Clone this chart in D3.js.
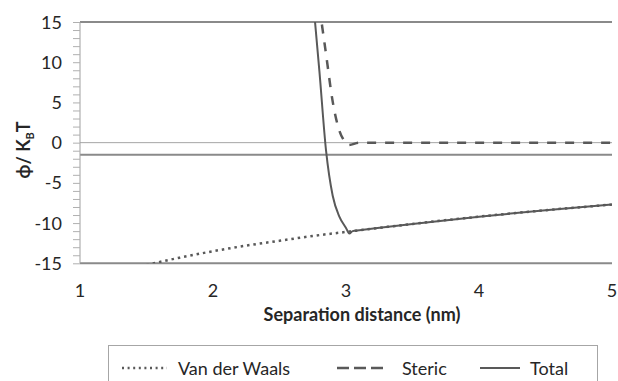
<!DOCTYPE html>
<html>
<head>
<meta charset="utf-8">
<script src="https://cdn.jsdelivr.net/npm/d3@7"></script>
<style>
  body { margin: 0; background: #fff; }
  text { font-family: Lato, "DejaVu Sans", sans-serif; fill: #262626; }
</style>
</head>
<body>
<div class="chart"></div>
<script>
// values
const vdwX   = [1.5, 1.75, 2.0, 2.25, 2.5, 2.75, 3.0, 3.5, 4.0, 4.5, 5.0];
const vdwY   = [-15.2, -14.3, -13.5, -12.8, -12.2, -11.6, -11.1, -10.1, -9.2, -8.4, -7.7];
const stericX = [2.8, 2.85, 2.9, 2.95, 2.98, 3.02, 3.1, 3.5, 4.0, 4.5, 5.0];
const stericY = [16.9, 11.0, 5.1, 1.5, 0.4, -0.3, 0, 0, 0, 0, 0];
const totalX = [2.75, 2.8, 2.85, 2.9, 2.95, 3.0, 3.025, 3.05, 3.1, 3.5, 4.0, 4.5, 5.0];
const totalY = [18.2, 8.9, -1.0, -6.6, -9.2, -10.6, -11.3, -11.0, -10.9, -10.1, -9.2, -8.4, -7.7];
const xTicks = [1, 2, 3, 4, 5];
const yTicks = [-15, -10, -5, 0, 5, 10, 15];
const refLines = [15, -1.5, -15];
const legendNames = ["Van der Waals", "Steric", "Total"];

const W = 618, H = 381;
const margin = { top: 22, right: 6, bottom: 117.7, left: 80 };
const width = W - margin.left - margin.right;
const height = H - margin.top - margin.bottom;

const svg = d3.select(".chart").append("svg")
    .attr("width", W)
    .attr("height", H);

const g = svg.append("g")
    .attr("transform", `translate(${margin.left}, ${margin.top})`);

const x = d3.scaleLinear().domain([1, 5]).range([0, width]);
const y = d3.scaleLinear().domain([-15, 15]).range([height, 0]);

// zero line (thin) and heavier horizontal lines
g.append("line")
    .attr("x1", 0).attr("x2", width)
    .attr("y1", y(0)).attr("y2", y(0))
    .attr("stroke", "#a6a6a6").attr("stroke-width", 1);

g.selectAll(".ref").data(refLines).enter().append("line")
    .attr("class", "ref")
    .attr("x1", 0).attr("x2", width)
    .attr("y1", d => y(d)).attr("y2", d => y(d))
    .attr("stroke", "#8a8a8a").attr("stroke-width", 2);

// left axis with minor ticks every 1
const yAxis = g.append("g")
    .call(d3.axisLeft(y).tickValues(d3.range(-15, 16, 1)).tickSize(7).tickFormat(""));
yAxis.select(".domain").attr("stroke", "#a0a0a0").attr("d", `M0,0V${height}`);
yAxis.selectAll(".tick line").attr("stroke", "#b0b0b0");

g.selectAll(".ylab").data(yTicks).enter().append("text")
    .attr("class", "ylab")
    .attr("x", -18)
    .attr("y", d => y(d) + 6.5)
    .attr("text-anchor", "end")
    .style("font-size", "18px")
    .text(d => d);

g.selectAll(".xlab").data(xTicks).enter().append("text")
    .attr("class", "xlab")
    .attr("x", d => x(d))
    .attr("y", height + 34)
    .attr("text-anchor", "middle")
    .style("font-size", "18px")
    .text(d => d);

// clip to plot area
svg.append("defs").append("clipPath").attr("id", "clip")
  .append("rect").attr("x", 0).attr("y", 0).attr("width", width).attr("height", height);

const line = d3.line()
    .x(d => x(d[0]))
    .y(d => y(d[1]))
    .curve(d3.curveMonotoneX);

const plot = g.append("g").attr("clip-path", "url(#clip)");

plot.append("path")
    .datum(d3.zip(vdwX, vdwY))
    .attr("fill", "none")
    .attr("stroke", "#595959")
    .attr("stroke-width", 2.5)
    .attr("stroke-dasharray", "2.5,3.9")
    .attr("d", line);

plot.append("path")
    .datum(d3.zip(stericX, stericY))
    .attr("fill", "none")
    .attr("stroke", "#595959")
    .attr("stroke-width", 2.5)
    .attr("stroke-dasharray", "9,9")
    .attr("d", line);

plot.append("path")
    .datum(d3.zip(totalX, totalY))
    .attr("fill", "none")
    .attr("stroke", "#595959")
    .attr("stroke-width", 2)
    .attr("d", line);

// axis titles
svg.append("text")
    .attr("x", 362)
    .attr("y", 321)
    .attr("text-anchor", "middle")
    .style("font-size", "18px")
    .style("font-weight", "bold")
    .text("Separation distance (nm)");

const yt = svg.append("text")
    .attr("transform", "translate(30,150) rotate(-90)")
    .attr("text-anchor", "middle")
    .style("font-size", "18px")
    .style("font-weight", "bold");
yt.append("tspan").text("ϕ/ K");
yt.append("tspan").attr("dy", 4).style("font-size", "11px").text("B");
yt.append("tspan").attr("dy", -4).text("T");

// legend
const lg = svg.append("g");
lg.append("rect")
    .attr("x", 108.5).attr("y", 345.5)
    .attr("width", 489).attr("height", 50)
    .attr("fill", "none")
    .attr("stroke", "#a6a6a6").attr("stroke-width", 1);

const legendItems = [
  { x1: 122, x2: 167, dash: "2,3.6", tx: 178 },
  { x1: 337, x2: 383, dash: "12,5", tx: 402 },
  { x1: 480, x2: 520, dash: null, tx: 530 }
];
legendItems.forEach((it, i) => {
  const l = lg.append("line")
      .attr("x1", it.x1).attr("x2", it.x2)
      .attr("y1", 368).attr("y2", 368)
      .attr("stroke", "#595959")
      .attr("stroke-width", i === 2 ? 2 : 2.5);
  if (it.dash) l.attr("stroke-dasharray", it.dash);
  lg.append("text")
      .attr("x", it.tx).attr("y", 375)
      .style("font-size", "18px")
      .text(legendNames[i]);
});
</script>
</body>
</html>
